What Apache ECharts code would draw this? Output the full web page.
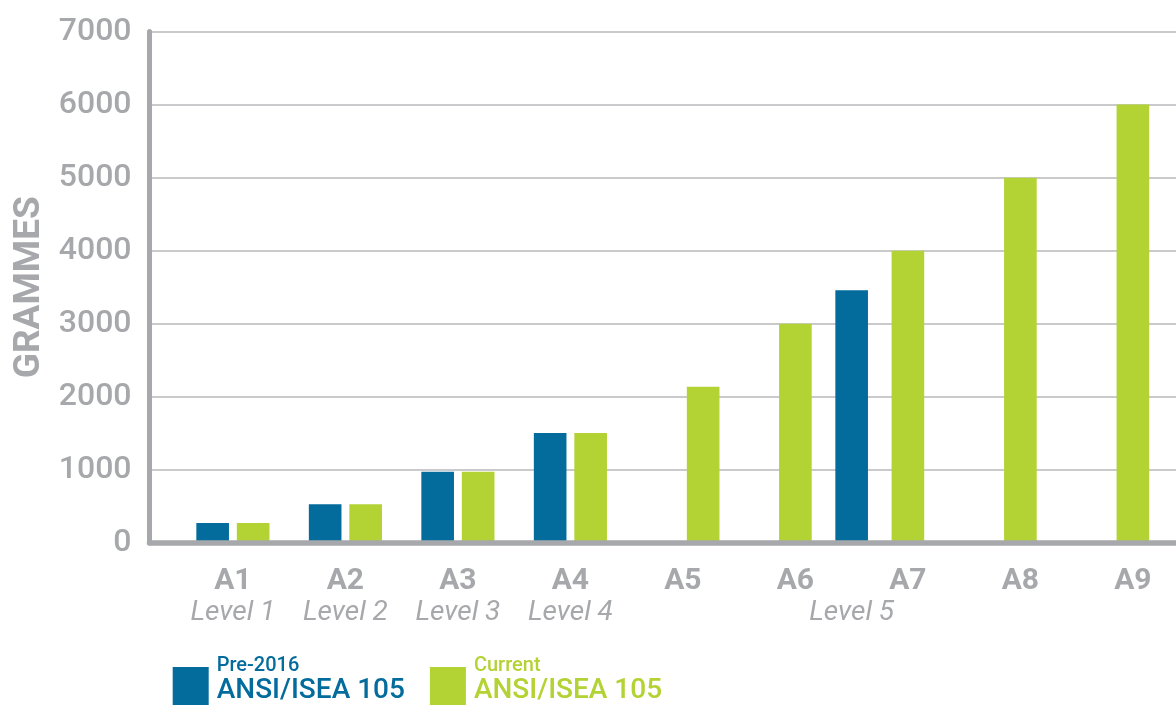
<!DOCTYPE html>
<html>
<head>
<meta charset="utf-8">
<style>
  html, body { margin: 0; padding: 0; background: #fff; }
  #chart { width: 1176px; height: 705px; }
</style>
<script src="https://cdn.jsdelivr.net/npm/echarts@6/dist/echarts.min.js"></script>
</head>
<body>
<div id="chart"></div>
<script>
// values (grammes)
const categories = ['A1', 'A2', 'A3', 'A4', 'A5', 'A6', 'A7', 'A8', 'A9'];
const levelNames = ['Level 1', 'Level 2', 'Level 3', 'Level 4', 'Level 5'];
const levelUnder = ['A1', 'A2', 'A3', 'A4', 'A6'];   // category each old level hangs on
const preValues = [275, 530, 975, 1505, 3460];        // Pre-2016, one per level
const currentValues = [275, 530, 975, 1505, 2140, 3000, 4000, 5000, 6000];
const yTicks = [0, 1000, 2000, 3000, 4000, 5000, 6000, 7000];

const BLUE = '#036c9c';
const GREEN = '#b3d234';
const GREY = '#a7a8ab';

// draw a bar on the category axis, shifted by a fraction of the step
function bar(api, cat, value, shift, color) {
  const step = api.size([1, 0])[0];
  const top = api.coord([cat, value]);
  const base = api.coord([cat, 0]);
  const w = step * 0.29;
  const cx = top[0] + shift * step;
  return {
    type: 'rect',
    shape: { x: cx - w / 2, y: top[1], width: w, height: base[1] - top[1] },
    style: { fill: color }
  };
}

const chart = echarts.init(document.getElementById('chart'));

chart.setOption({
  animation: false,
  grid: [
    // frame: y axis, gridlines, x axis line
    { left: 149.5, right: 0, top: 31.5, bottom: 162 },
    // bars and category labels, categories on the grid edges
    { left: 232.9, right: 43.1, top: 31.5, bottom: 162 }
  ],
  xAxis: [{
    gridIndex: 0,
    type: 'value', min: 0, max: 1, z: 10,
    axisLine: { show: true, lineStyle: { color: GREY, width: 5.5 } },
    axisTick: { show: false },
    axisLabel: { show: false },
    splitLine: { show: false }
  }, {
    gridIndex: 1,
    type: 'category',
    boundaryGap: false,
    data: categories,
    axisLine: { show: false },
    axisTick: { show: false },
    axisLabel: {
      interval: 0,
      margin: 22,
      formatter: function (val) {
        const k = levelUnder.indexOf(val);
        if (k < 0) return '{a|' + val + '}';
        const key = k === 4 ? 'l5' : 'l';
        return '{a|' + val + '}\n{' + key + '|' + levelNames[k] + '}';
      },
      rich: {
        a: { fontFamily: 'Roboto', fontWeight: 'bold', fontSize: 30, lineHeight: 33, color: GREY },
        l: { fontFamily: 'Roboto', fontStyle: 'italic', fontSize: 28, lineHeight: 30, color: GREY },
        l5: { fontFamily: 'Roboto', fontStyle: 'italic', fontSize: 28, lineHeight: 30, color: GREY,
              padding: [0, 0, 0, 112.5] }
      }
    }
  }],
  yAxis: [{
    gridIndex: 0,
    type: 'value', min: 0, max: 7000, interval: 1000,
    name: 'GRAMMES',
    nameLocation: 'middle',
    nameRotate: 90,
    nameGap: 101,
    nameTextStyle: { fontFamily: 'Roboto', fontWeight: 'bold', fontSize: 37, color: GREY },
    axisLine: { show: true, lineStyle: { color: GREY, width: 5 } },
    axisTick: { show: false },
    axisLabel: {
      margin: 18,
      fontFamily: 'Roboto', fontWeight: 500, fontSize: 32, color: GREY,
      formatter: v => (yTicks.indexOf(v) >= 0 ? String(v) : '')
    },
    splitLine: { lineStyle: { color: '#b9b9bb', width: 1.5 } }
  }, {
    gridIndex: 1,
    type: 'value', min: 0, max: 7000, interval: 1000,
    show: false
  }],
  legend: {
    left: 172.7, top: 656, padding: 0,
    icon: 'rect', itemWidth: 36, itemHeight: 40, itemGap: 25,
    selectedMode: false,
    data: ['Pre-2016', 'Current'],
    formatter: function (name) {
      return name === 'Pre-2016'
        ? '{sb|Pre-2016}\n{bb|ANSI/ISEA 105}'
        : '{sg|Current}\n{bg|ANSI/ISEA 105}';
    },
    textStyle: {
      fontFamily: 'Roboto',
      padding: [0, 0, 14, 0],
      rich: {
        sb: { color: BLUE, fontWeight: 500, fontSize: 20, lineHeight: 22, padding: [0, 0, 0, 3] },
        bb: { color: BLUE, fontWeight: 500, fontSize: 28, lineHeight: 28, padding: [0, 0, 0, 3] },
        sg: { color: GREEN, fontWeight: 500, fontSize: 20, lineHeight: 22, padding: [0, 0, 0, 3] },
        bg: { color: GREEN, fontWeight: 500, fontSize: 28, lineHeight: 28, padding: [0, 0, 0, 3] }
      }
    }
  },
  series: [{
    name: 'Pre-2016',
    type: 'custom',
    xAxisIndex: 1, yAxisIndex: 1,
    itemStyle: { color: BLUE },
    encode: { x: 0, y: 1 },
    data: preValues.map((v, k) => [categories.indexOf(levelUnder[k]), v, k]),
    renderItem: function (params, api) {
      const k = api.value(2);
      // levels 1-4 sit left of their pair; level 5 sits between A6 and A7
      const shift = k < 4 ? -0.18 : 0.5;
      return bar(api, api.value(0), api.value(1), shift, BLUE);
    }
  }, {
    name: 'Current',
    type: 'custom',
    xAxisIndex: 1, yAxisIndex: 1,
    itemStyle: { color: GREEN },
    encode: { x: 0, y: 1 },
    data: currentValues.map((v, i) => [i, v]),
    renderItem: function (params, api) {
      const i = api.value(0);
      // A1-A5 keep a left slot for the old level, later ones are centred
      const shift = i <= 4 ? 0.18 : 0;
      return bar(api, i, api.value(1), shift, GREEN);
    }
  }]
});
</script>
</body>
</html>
